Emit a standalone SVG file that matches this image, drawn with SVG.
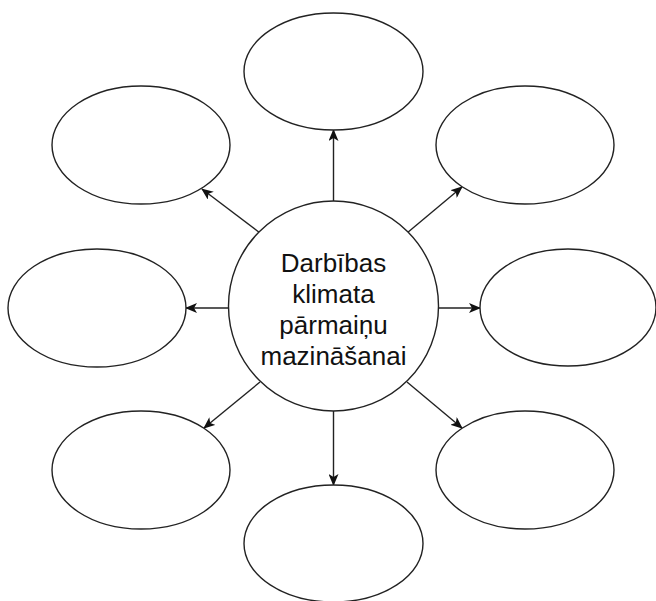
<svg xmlns="http://www.w3.org/2000/svg" width="656" height="601" viewBox="0 0 656 601">
<style>
.n{fill:#fff;stroke:#222;stroke-width:1.4}
.c{stroke:#222;stroke-width:1.4;fill:none;marker-end:url(#ah)}
.t{font-family:"Liberation Sans",Arial,sans-serif;font-size:26px;fill:#111;text-anchor:middle}
</style>
<defs>
<marker id="ah" viewBox="0 0 12 10" refX="11" refY="5" markerWidth="12" markerHeight="10" markerUnits="userSpaceOnUse" orient="auto">
<path d="M0,0 L12,5 L0,10 L3,5 z" fill="#111"/>
</marker>
</defs>
<rect width="656" height="601" fill="#fff"/>
<g id="connectors">
<line class="c" x1="333.5" y1="201" x2="333.5" y2="130"/>
<line class="c" x1="260" y1="233" x2="202" y2="189"/>
<line class="c" x1="407" y1="233" x2="462" y2="187"/>
<line class="c" x1="228.5" y1="308" x2="186" y2="308"/>
<line class="c" x1="438.5" y1="308" x2="480" y2="308"/>
<line class="c" x1="260" y1="382" x2="204" y2="428"/>
<line class="c" x1="407" y1="382" x2="462" y2="428"/>
<line class="c" x1="333.5" y1="411" x2="333.5" y2="485"/>
</g>
<g id="node-top"><ellipse class="n" cx="333.5" cy="71.5" rx="89.5" ry="58.5"/></g>
<g id="node-top-left"><ellipse class="n" cx="141" cy="145" rx="89" ry="59"/></g>
<g id="node-top-right"><ellipse class="n" cx="525" cy="145" rx="89" ry="59"/></g>
<g id="node-left"><ellipse class="n" cx="97" cy="308" rx="89" ry="59"/></g>
<g id="node-right"><ellipse class="n" cx="568" cy="307.5" rx="88" ry="58.5"/></g>
<g id="node-bottom-left"><ellipse class="n" cx="141" cy="470" rx="89" ry="59"/></g>
<g id="node-bottom-right"><ellipse class="n" cx="525" cy="470" rx="89" ry="59"/></g>
<g id="node-bottom"><ellipse class="n" cx="333.5" cy="543.5" rx="89.5" ry="58.5"/></g>
<g id="node-center">
<circle class="n" cx="333.5" cy="306" r="105"/>
<text class="t" x="333.5" y="272">Darbības</text>
<text class="t" x="333.5" y="303">klimata</text>
<text class="t" x="333.5" y="334">pārmaiņu</text>
<text class="t" x="333.5" y="365">mazināšanai</text>
</g>
</svg>
